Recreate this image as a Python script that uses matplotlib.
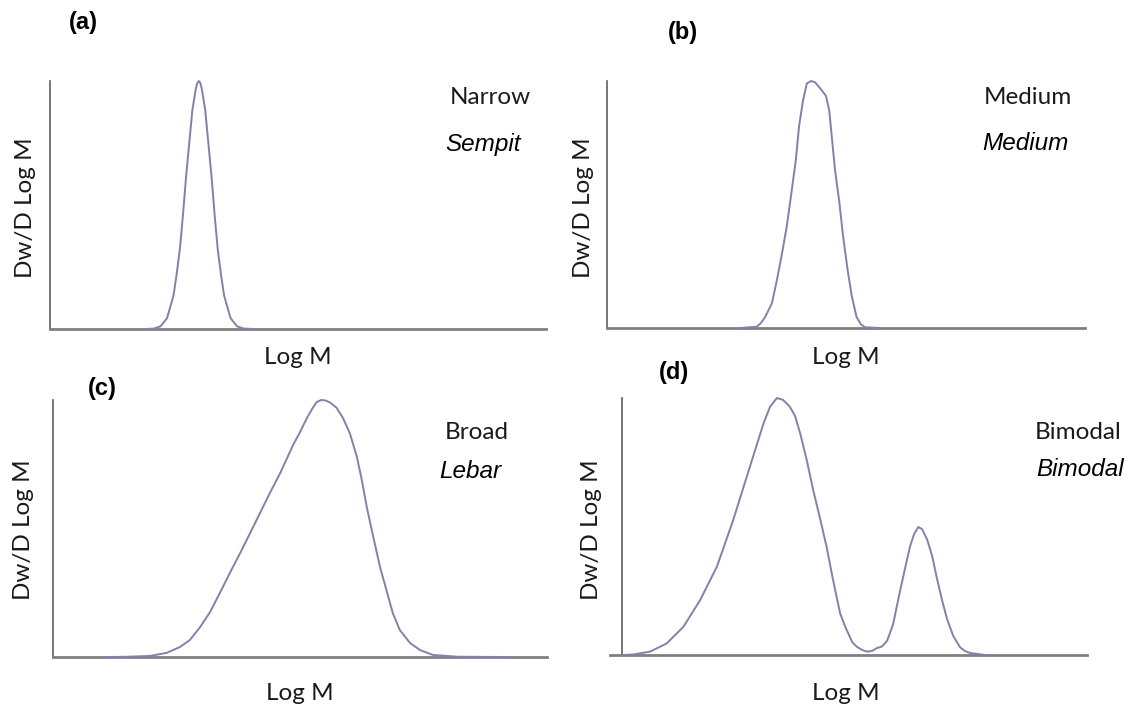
import matplotlib
matplotlib.use("Agg")
import matplotlib.pyplot as plt

# curve points (x: Log M in arbitrary units 0-10, y: relative height)
narrow_x = [1.95, 2.10, 2.23, 2.36, 2.49, 2.55, 2.62, 2.68, 2.74, 2.81, 2.87, 2.94, 2.97, 3.00,
            3.03, 3.06, 3.13, 3.19, 3.26, 3.32, 3.38, 3.45, 3.51, 3.64, 3.77, 3.90, 4.10]
narrow_y = [0.0, 0.002, 0.011, 0.044, 0.135, 0.216, 0.325, 0.458, 0.607, 0.755, 0.882, 0.969, 0.992, 1.0,
            0.992, 0.969, 0.882, 0.755, 0.607, 0.458, 0.325, 0.216, 0.135, 0.044, 0.011, 0.002, 0.0]

medium_x = [2.78, 3.13, 3.22, 3.31, 3.45, 3.55, 3.65, 3.76, 3.86, 3.95, 4.02, 4.10, 4.18, 4.27,
            4.35, 4.42, 4.58, 4.65, 4.70, 4.77, 4.86, 4.94, 5.03, 5.12, 5.22, 5.31, 5.40, 5.71]
medium_y = [0.0, 0.005, 0.02, 0.045, 0.10, 0.19, 0.29, 0.41, 0.55, 0.68, 0.82, 0.92, 0.99, 1.0,
            0.995, 0.98, 0.94, 0.88, 0.78, 0.64, 0.51, 0.37, 0.24, 0.13, 0.045, 0.015, 0.003, 0.0]

broad_x = [1.09, 1.50, 1.96, 2.30, 2.57, 2.77, 2.98, 3.18, 3.38, 3.58, 3.79, 3.99, 4.19, 4.39,
           4.60, 4.86, 5.00, 5.14, 5.26, 5.34, 5.43, 5.52, 5.61, 5.74, 5.87, 6.01, 6.15, 6.25,
           6.35, 6.48, 6.62, 6.76, 6.88, 7.02, 7.23, 7.43, 7.69, 8.20, 9.25]
broad_y = [0.0, 0.001, 0.004, 0.016, 0.039, 0.066, 0.117, 0.175, 0.25, 0.327, 0.405, 0.482, 0.56, 0.638,
           0.716, 0.825, 0.875, 0.93, 0.97, 0.992, 1.0, 0.998, 0.99, 0.97, 0.93, 0.87, 0.78, 0.69,
           0.585, 0.47, 0.35, 0.253, 0.17, 0.105, 0.054, 0.027, 0.008, 0.001, 0.0]

bimodal_x = [0.02, 0.24, 0.60, 0.96, 1.32, 1.68, 2.04, 2.39, 2.75, 3.04, 3.18, 3.33, 3.46, 3.61,
             3.72, 3.83, 3.97, 4.11, 4.26, 4.40, 4.54, 4.69, 4.80, 4.95, 5.05, 5.16, 5.27, 5.38,
             5.48, 5.59, 5.70, 5.83, 5.91, 5.98, 6.09, 6.19, 6.28, 6.37, 6.45, 6.56, 6.67, 6.77,
             6.88, 6.99, 7.12, 7.27, 7.38, 7.48, 7.81]
bimodal_y = [0.0, 0.002, 0.013, 0.045, 0.11, 0.214, 0.344, 0.525, 0.733, 0.90, 0.965, 1.0, 0.993, 0.966,
             0.93, 0.863, 0.76, 0.642, 0.53, 0.42, 0.29, 0.162, 0.11, 0.05, 0.032, 0.02, 0.013, 0.016,
             0.027, 0.033, 0.055, 0.12, 0.19, 0.25, 0.34, 0.42, 0.47, 0.498, 0.49, 0.45, 0.385, 0.30,
             0.215, 0.14, 0.075, 0.03, 0.015, 0.008, 0.0]

panel_tags = ["(a)", "(b)", "(c)", "(d)"]
names_en = ["Narrow", "Medium", "Broad", "Bimodal"]
names_id = ["Sempit", "Medium", "Lebar", "Bimodal"]

W, H = 1139, 709
fig = plt.figure(figsize=(W / 100, H / 100), dpi=100)


def px(x, y):
    return x / W, 1 - y / H


def box(x0, x1, top, base):
    return [x0 / W, 1 - base / H, (x1 - x0) / W, (base - top) / H]


line_color = "#8280b2"
label_font = "Lato"

panels = [
    # axes box, xlim, curve, tag pos, name pos, italic pos, xlabel pos, ylabel pos
    (box(50, 546, 81, 329), (0, 10), narrow_x, narrow_y, (83, 22), (490, 97), (483, 145), (298, 358), (25, 208)),
    (box(607, 1085, 81, 328), (0, 10), medium_x, medium_y, (683, 32), (1028, 97), (1025, 144), (846, 358), (583, 208)),
    (box(53, 547, 400, 657), (0, 10), broad_x, broad_y, (102, 389), (477, 432), (470, 472), (300, 693), (23, 530)),
    (box(610, 1087, 398, 655), (-0.26, 10), bimodal_x, bimodal_y, (674, 373), (1078, 432), (1080, 470), (846, 693), (592, 530)),
]

for i, (rect, xl, xs, ys, tag, npos, ipos, xlpos, ylpos) in enumerate(panels):
    ax = fig.add_axes(rect)
    ax.plot(xs, ys, color=line_color, lw=1.4, clip_on=False, zorder=3,
            solid_joinstyle="round")
    ax.set_xlim(*xl)
    ax.set_ylim(0, 1.0)
    ax.spines["top"].set_visible(False)
    ax.spines["right"].set_visible(False)
    ax.spines["left"].set_position(("data", 0))
    ax.spines["left"].set_color("#606060")
    ax.spines["left"].set_linewidth(1.2)
    ax.spines["bottom"].set_color("#808080")
    ax.spines["bottom"].set_linewidth(2.0)
    ax.set_xticks([])
    ax.set_yticks([])
    ax.patch.set_alpha(0)

    fig.text(*px(*tag), panel_tags[i], fontsize=17, fontweight="bold",
             family="Liberation Sans", ha="center", va="center")
    fig.text(*px(*npos), names_en[i], fontsize=17.5, family=label_font,
             color="#1a1a1a", ha="center", va="center")
    fig.text(*px(*ipos), names_id[i], fontsize=17.5, style="italic",
             family="Liberation Sans", ha="center", va="center")
    fig.text(*px(*xlpos), "Log M", fontsize=17.5, family=label_font,
             color="#1a1a1a", ha="center", va="center")
    fig.text(*px(*ylpos), "Dw/D Log M", fontsize=17.5, family=label_font,
             color="#1a1a1a", ha="center", va="center", rotation=90)

fig.savefig("out.png", dpi=100)
